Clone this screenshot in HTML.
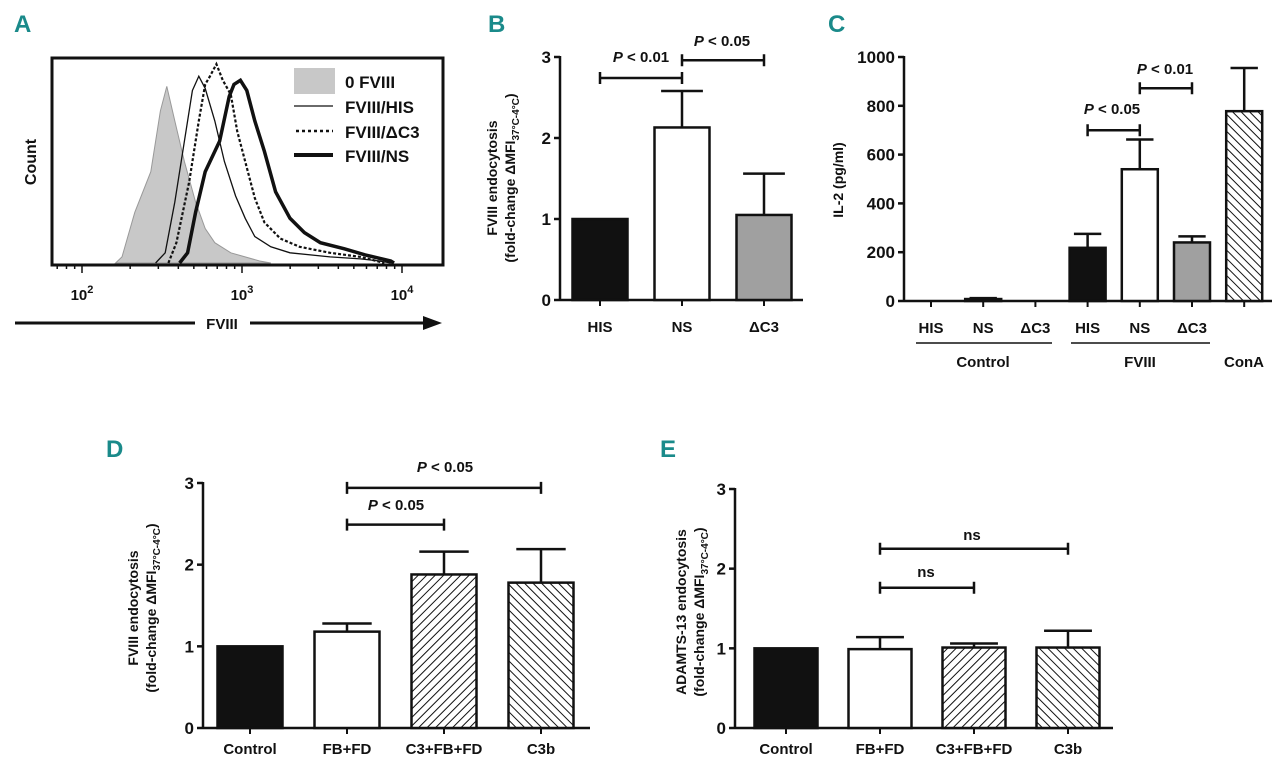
<!DOCTYPE html>
<html><head><meta charset="utf-8"><style>
body{margin:0;background:#fff}
svg{display:block}
text{font-family:"Liberation Sans",sans-serif;font-weight:bold;fill:#111}
.lt{fill:#1a8a8a;font-size:24px}
.tk{font-size:15px}
</style></head><body>
<svg id="fig" width="1280" height="772" viewBox="0 0 1280 772" xmlns="http://www.w3.org/2000/svg">
<defs>
<pattern id="hatchR" patternUnits="userSpaceOnUse" width="6" height="6" patternTransform="rotate(45)"><rect width="6" height="6" fill="#fff"/><line x1="0" y1="0" x2="0" y2="6" stroke="#111" stroke-width="2"/></pattern>
<pattern id="hatchL" patternUnits="userSpaceOnUse" width="6" height="6" patternTransform="rotate(-45)"><rect width="6" height="6" fill="#fff"/><line x1="0" y1="0" x2="0" y2="6" stroke="#111" stroke-width="2"/></pattern>
</defs>
<text class="lt" x="14" y="32">A</text>
<text class="lt" x="488" y="32">B</text>
<text class="lt" x="828" y="32">C</text>
<text class="lt" x="106" y="457">D</text>
<text class="lt" x="660" y="457">E</text>

<g id="panelA">
<rect x="52" y="58" width="391" height="207" fill="none" stroke="#111" stroke-width="3"/>
<text x="36" y="162" font-size="16" text-anchor="middle" transform="rotate(-90 36 162)">Count</text>
<text class="tk" x="82" y="300" text-anchor="middle" font-size="16">10<tspan dy="-7" font-size="11">2</tspan></text>
<text class="tk" x="242" y="300" text-anchor="middle" font-size="16">10<tspan dy="-7" font-size="11">3</tspan></text>
<text class="tk" x="402" y="300" text-anchor="middle" font-size="16">10<tspan dy="-7" font-size="11">4</tspan></text>
<line x1="15" y1="323" x2="195" y2="323" stroke="#111" stroke-width="3"/>
<text x="222" y="329" font-size="15" text-anchor="middle">FVIII</text>
<line x1="250" y1="323" x2="425" y2="323" stroke="#111" stroke-width="3"/>
<polygon points="423,316 442,323 423,330" fill="#111"/>
<g>
<rect x="294" y="68" width="41" height="26" fill="#c8c8c8"/>
<text x="345" y="88" font-size="17">0 FVIII</text>
<line x1="294" y1="106" x2="333" y2="106" stroke="#111" stroke-width="1.3"/>
<text x="345" y="113" font-size="17">FVIII/HIS</text>
<line x1="296" y1="131" x2="333" y2="131" stroke="#111" stroke-width="2.5" stroke-dasharray="3,3"/>
<text x="345" y="138" font-size="17">FVIII/ΔC3</text>
<line x1="294" y1="155" x2="333" y2="155" stroke="#111" stroke-width="4"/>
<text x="345" y="162" font-size="17">FVIII/NS</text>
</g>
</g>

<text x="497" y="178" font-size="14" text-anchor="middle" transform="rotate(-90 497 178)">FVIII endocytosis</text>
<text x="515" y="178" font-size="14" text-anchor="middle" transform="rotate(-90 515 178)">(fold-change ΔMFI<tspan font-size="10" dy="4">37°C-4°C</tspan><tspan dy="-4">)</tspan></text>
<text class="tk" x="641" y="62" text-anchor="middle"><tspan font-style="italic">P</tspan> &lt; 0.01</text>
<text class="tk" x="722" y="46" text-anchor="middle"><tspan font-style="italic">P</tspan> &lt; 0.05</text>

<text x="843" y="180" font-size="14" text-anchor="middle" transform="rotate(-90 843 180)">IL-2 (pg/ml)</text>
<text class="tk" x="1112" y="114" text-anchor="middle"><tspan font-style="italic">P</tspan> &lt; 0.05</text>
<text class="tk" x="1165" y="74" text-anchor="middle"><tspan font-style="italic">P</tspan> &lt; 0.01</text>
<line x1="916" y1="343" x2="1052" y2="343" stroke="#111" stroke-width="1.5"/>
<line x1="1071" y1="343" x2="1210" y2="343" stroke="#111" stroke-width="1.5"/>
<text class="tk" x="983" y="367" text-anchor="middle">Control</text>
<text class="tk" x="1140" y="367" text-anchor="middle">FVIII</text>
<text class="tk" x="1244" y="367" text-anchor="middle">ConA</text>

<text x="138" y="608" font-size="14" text-anchor="middle" transform="rotate(-90 138 608)">FVIII endocytosis</text>
<text x="156" y="608" font-size="14" text-anchor="middle" transform="rotate(-90 156 608)">(fold-change ΔMFI<tspan font-size="10" dy="4">37°C-4°C</tspan><tspan dy="-4">)</tspan></text>
<text class="tk" x="396" y="510" text-anchor="middle"><tspan font-style="italic">P</tspan> &lt; 0.05</text>
<text class="tk" x="445" y="472" text-anchor="middle"><tspan font-style="italic">P</tspan> &lt; 0.05</text>

<text x="686" y="612" font-size="14" text-anchor="middle" transform="rotate(-90 686 612)">ADAMTS-13 endocytosis</text>
<text x="704" y="612" font-size="14" text-anchor="middle" transform="rotate(-90 704 612)">(fold-change ΔMFI<tspan font-size="10" dy="4">37°C-4°C</tspan><tspan dy="-4">)</tspan></text>
<text class="tk" x="926" y="577" text-anchor="middle">ns</text>
<text class="tk" x="972" y="540" text-anchor="middle">ns</text>
</svg>
<script>
const NS='http://www.w3.org/2000/svg';
const svg=document.getElementById('fig');
function mk(tag,attrs){const e=document.createElementNS(NS,tag);for(const k in attrs)e.setAttribute(k,attrs[k]);svg.appendChild(e);return e;}

const histLog0=[2.21,2.25,2.33,2.43,2.49,2.53,2.58,2.64,2.71,2.77,2.83,2.93,3.11,3.18];
const histCnt0=[0,3,25,45,75,87,70,50,30,17,10,5,1,0];
const histLogHis=[2.46,2.52,2.58,2.64,2.69,2.73,2.77,2.83,2.89,2.96,3.02,3.08,3.18,3.30,3.55,3.74,3.86,3.93];
const histCntHis=[0,5,30,60,85,92,86,70,50,33,22,13,8,5,3,2,1,0];
const histLogDc3=[2.54,2.59,2.67,2.73,2.77,2.80,2.84,2.88,2.93,2.97,3.02,3.08,3.14,3.24,3.36,3.55,3.74,3.89];
const histCntDc3=[0,10,40,70,88,92,98,90,83,65,50,32,20,12,8,5,3,0];
const histLogNs=[2.61,2.66,2.71,2.77,2.86,2.92,2.95,2.99,3.03,3.08,3.14,3.21,3.30,3.39,3.49,3.64,3.77,3.93,3.95];
const histCntNs=[0,5,25,45,60,82,88,90,85,70,55,35,22,15,10,7,4,1,0];

const ax=l=>82+160*(l-2);
const ay=c=>263-2.03*c;
function pts(L,C){return L.map((l,i)=>ax(l).toFixed(1)+','+ay(C[i]).toFixed(1)).join(' ');}
for(let d=1;d<=4;d++){for(let m=1;m<10;m++){const v=d+Math.log10(m);const x=ax(v);if(x<54||x>441)continue;
 const t=mk('line',{x1:x,y1:265,x2:x,y2:m===1?273:269,stroke:'#111','stroke-width':1.5});
 
 }}
const g0=mk('polygon',{points:pts(histLog0,histCnt0),fill:'#c8c8c8',stroke:'#999','stroke-width':1});


const gH=mk('polyline',{points:pts(histLogHis,histCntHis),fill:'none',stroke:'#111','stroke-width':1.3});


const gD=mk('polyline',{points:pts(histLogDc3,histCntDc3),fill:'none',stroke:'#111','stroke-width':2.2,'stroke-dasharray':'3,2'});


const gN=mk('polyline',{points:pts(histLogNs,histCntNs),fill:'none',stroke:'#111','stroke-width':3.5});



const catsB=['HIS','NS','ΔC3'];
const valsB=[1,2.13,1.05];
const errB=[1,2.58,1.56];
const ticksB=[0,1,2,3];
const fillsB=['#111','#fff','#a0a0a0'];

const catsC=['HIS','NS','ΔC3','HIS','NS','ΔC3',''];
const valsC=[0,8,0,218,540,240,778];
const errC=[0,12,0,275,662,265,955];
const ticksC=[0,200,400,600,800,1000];
const fillsC=['#111','#fff','#a0a0a0','#111','#fff','#a0a0a0','url(#hatchL)'];

const catsD=['Control','FB+FD','C3+FB+FD','C3b'];
const valsD=[1,1.18,1.88,1.78];
const errD=[1,1.28,2.16,2.19];
const ticksD=[0,1,2,3];
const fillsD=['#111','#fff','url(#hatchR)','url(#hatchL)'];

const catsE=['Control','FB+FD','C3+FB+FD','C3b'];
const valsE=[1,0.99,1.01,1.01];
const errE=[1,1.14,1.06,1.22];
const ticksE=[0,1,2,3];

function panel(id,o){
 const y=v=>o.y0-(v-o.min)/(o.max-o.min)*(o.y0-o.y1);
 const ya=mk('line',{x1:o.ax,y1:o.y1-1,x2:o.ax,y2:o.y0,stroke:'#111','stroke-width':2.5});
 
 
 const xa=mk('line',{x1:o.ax,y1:o.y0,x2:o.axEnd,y2:o.y0,stroke:'#111','stroke-width':2.5});
 
 
 o.ticks.forEach(t=>{
  const l=mk('line',{x1:o.ax-6,y1:y(t),x2:o.ax,y2:y(t),stroke:'#111','stroke-width':2.5});
  
  
  const tx=mk('text',{x:o.ax-9,y:y(t)+6,'text-anchor':'end','font-size':17});
  tx.textContent=t;
  
  
 });
 o.cats.forEach((c,i)=>{
  const cx=o.c0+i*o.step;
  const tk=mk('line',{x1:cx,y1:o.y0,x2:cx,y2:o.y0+6,stroke:'#111','stroke-width':2});
  
  
  if(o.vals[i]>0){
   const top=y(o.vals[i]);
   const r=mk('rect',{x:cx-o.bw/2,y:top,width:o.bw,height:o.y0-top,fill:o.fills[i],stroke:'#111','stroke-width':2.5});
   
   
   if(o.err[i]>o.vals[i]){
    const e=mk('path',{d:`M${cx},${top}V${y(o.err[i])}M${cx-o.bw*0.38},${y(o.err[i])}H${cx+o.bw*0.38}`,fill:'none',stroke:'#111','stroke-width':2.5});
    
    
   }
  }
  if(c){
   const lt=mk('text',{x:cx,y:o.y0+o.lblDy,'text-anchor':'middle','font-size':o.lblSize});
   lt.textContent=c;
   
   
  }
 });
 o.brackets.forEach(b=>{
  const x1=o.c0+b[0]*o.step,x2=o.c0+b[1]*o.step,by=y(b[2]);
  const p=mk('path',{d:`M${x1},${by}H${x2}M${x1},${by-6}V${by+6}M${x2},${by-6}V${by+6}`,fill:'none',stroke:'#111','stroke-width':2.5});
  
  
 });
}
panel('b',{ax:560,axEnd:803,y0:300,y1:57,min:0,max:3,ticks:ticksB,cats:catsB,vals:valsB,err:errB,fills:fillsB,c0:600,step:82,bw:55,lblDy:32,lblSize:15,brackets:[[0,1,2.74],[1,2,2.96]]});
panel('c',{ax:904,axEnd:1272,y0:301,y1:57,min:0,max:1000,ticks:ticksC,cats:catsC,vals:valsC,err:errC,fills:fillsC,c0:931,step:52.2,bw:36,lblDy:32,lblSize:15,brackets:[[3,4,700],[4,5,872]]});
panel('d',{ax:203,axEnd:590,y0:728,y1:483,min:0,max:3,ticks:ticksD,cats:catsD,vals:valsD,err:errD,fills:fillsD,c0:250,step:97,bw:65,lblDy:26,lblSize:15,brackets:[[1,2,2.49],[1,3,2.94]]});
panel('e',{ax:735,axEnd:1113,y0:728,y1:489,min:0,max:3,ticks:ticksE,cats:catsE,vals:valsE,err:errE,fills:fillsD,c0:786,step:94,bw:63,lblDy:26,lblSize:15,brackets:[[1,2,1.76],[1,3,2.25]]});
</script>
</body></html>
